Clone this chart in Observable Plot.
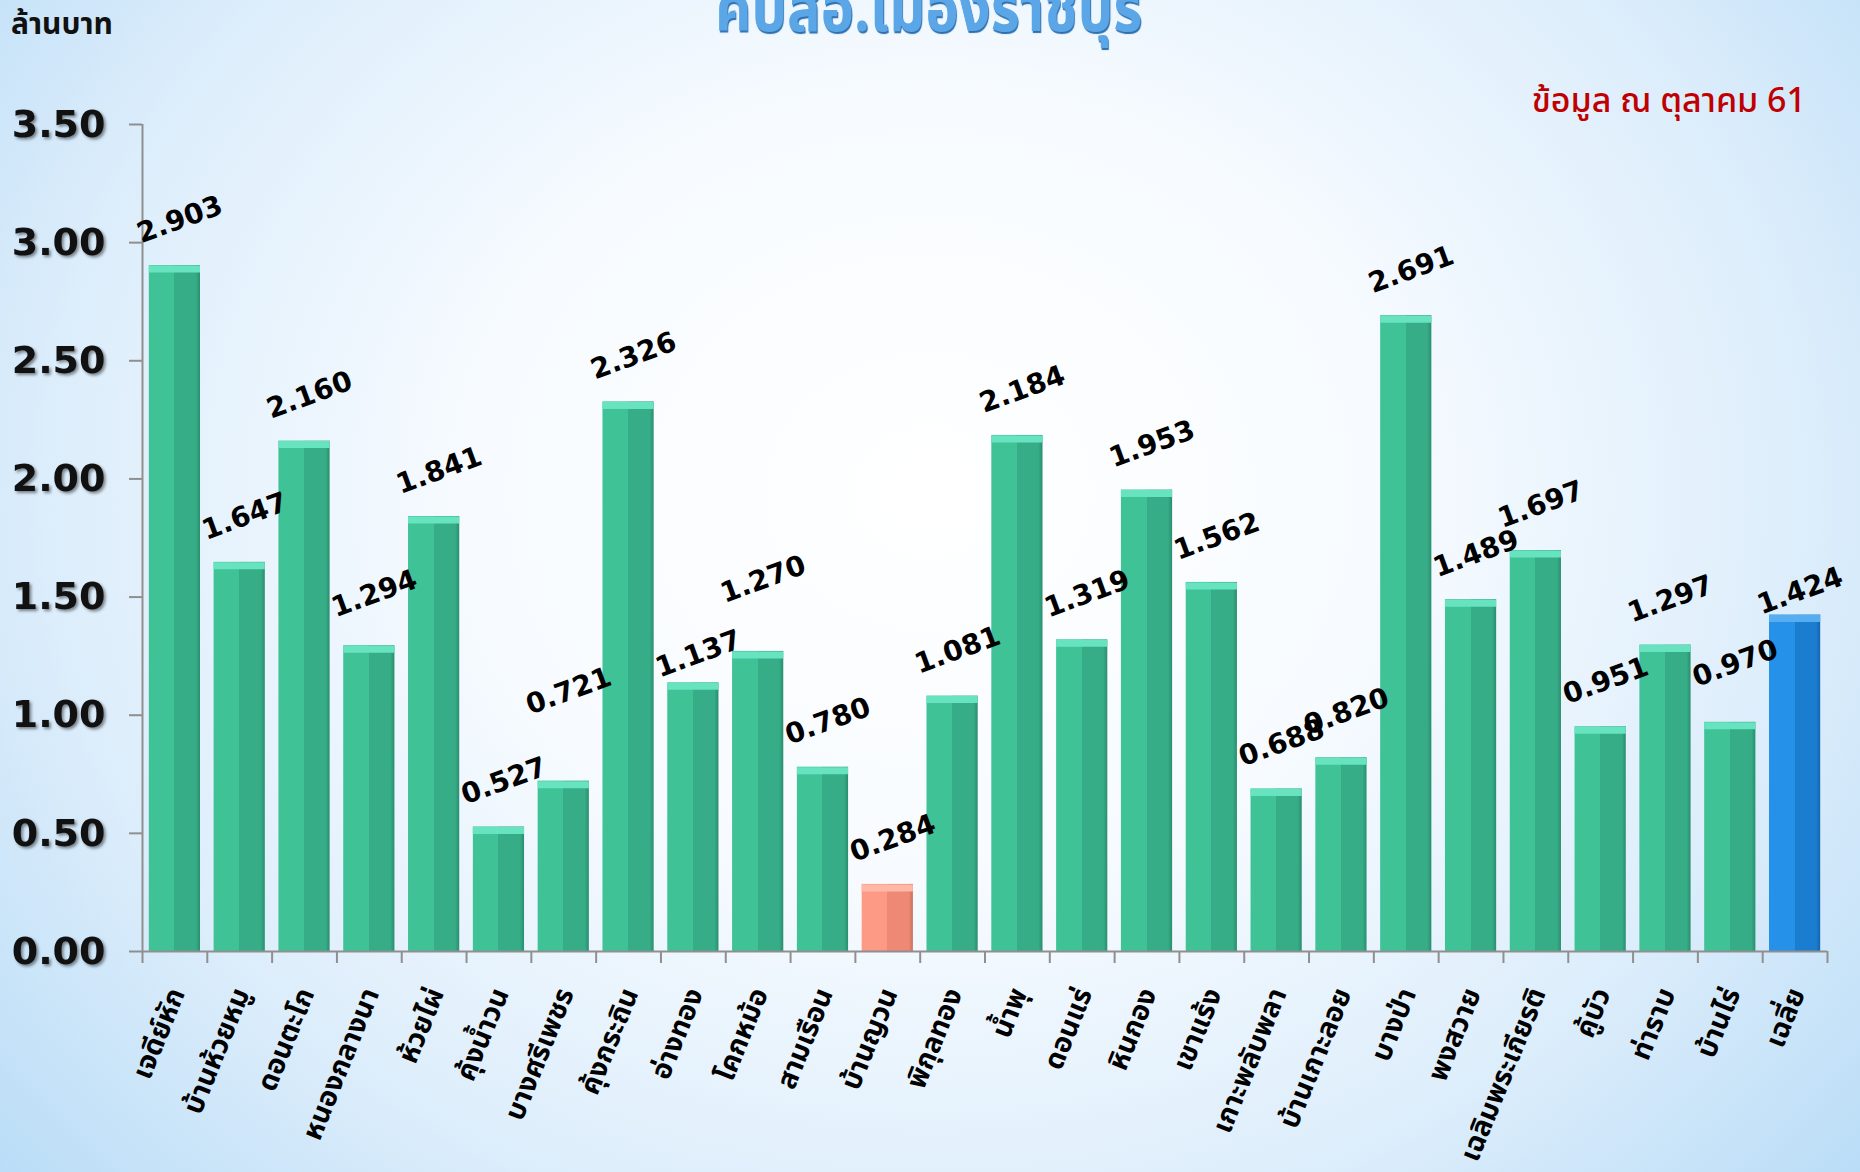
<!DOCTYPE html>
<html>
<head>
<meta charset="utf-8">
<script src="https://cdn.jsdelivr.net/npm/d3@7"></script>
<script src="https://cdn.jsdelivr.net/npm/@observablehq/plot@0.6"></script>
<style>
  html, body { margin: 0; padding: 0; }
  #page {
    position: relative; width: 1860px; height: 1172px; overflow: hidden;
    background: radial-gradient(ellipse 70% 95% at 50% 42%, #ffffff 0%, #f7fbff 35%, #dcedfb 68%, #b2d9f6 100%);
    font-family: Tahoma, "Noto Sans Thai", "Noto Sans", "DejaVu Sans", sans-serif;
  }
  #title {
    position: absolute; left: 0; width: 1860px; text-align: center; top: -22px;
    font-size: 66px; font-weight: 700; color: #5aa6e6; line-height: 1;
    text-shadow: 1px 2px 1px #2d6fae; transform: scaleX(0.85); transform-origin: 922px 0;
  }
  #ylabel { position: absolute; left: 11px; top: 2px; font-size: 30px; font-weight: 700; color: #111; }
  #note { position: absolute; right: 54px; top: 76px; font-size: 34px; font-weight: 500; color: #c00000; }
  svg { position: absolute; left: 0; top: 0; background: transparent; overflow: visible; }
</style>
</head>
<body>
<div id="page">
  <div id="title">คปสอ.เมืองราชบุรี</div>
  <div id="ylabel">ล้านบาท</div>
  <div id="note">ข้อมูล ณ ตุลาคม 61</div>
</div>
<script>
const categories = ["เจดีย์หัก","บ้านห้วยหมู","ดอนตะโก","หนองกลางนา","ห้วยไผ่","คุ้งน้ำวน","บางศรีเพชร","คุ้งกระถิน","อ่างทอง","โคกหม้อ","สามเรือน","บ้านญวน","พิกุลทอง","น้ำพุ","ดอนแร่","หินกอง","เขาแร้ง","เกาะพลับพลา","บ้านเกาะลอย","บางป่า","พงสวาย","เฉลิมพระเกียรติ","คู้บัว","ท่าราบ","บ้านไร่","เฉลี่ย"];
const values = [2.903,1.647,2.160,1.294,1.841,0.527,0.721,2.326,1.137,1.270,0.780,0.284,1.081,2.184,1.319,1.953,1.562,0.688,0.820,2.691,1.489,1.697,0.951,1.297,0.970,1.424];
const kinds = ["g","g","g","g","g","g","g","g","g","g","g","p","g","g","g","g","g","g","g","g","g","g","g","g","g","b"];
const yTicks = [0, 0.5, 1, 1.5, 2, 2.5, 3, 3.5];

const data = categories.map((name, i) => ({name, value: values[i], kind: kinds[i]}));

const W = 1860, H = 1172;
const mL = 142, mR = 33, mT = 124, mB = 221;
const step = (W - mL - mR) / categories.length;
const axisGray = "#8f8f8f";

const fills = {g: "url(#gradG)", p: "url(#gradP)", b: "url(#gradB)"};
const caps = {g: "#68e3bf", p: "#ffb7a6", b: "#56aef0"};

const barMarks = ["g", "p", "b"].flatMap(k => {
  const sub = data.filter(d => d.kind === k);
  return [
    Plot.barY(sub, {x: "name", y: "value", fill: fills[k]}),
    Plot.tickY(sub, {x: "name", y: "value", stroke: caps[k], strokeWidth: 7, dy: 3.5})
  ];
});

// value labels: most sit at a common offset; a few were nudged by hand in the original
const labelOffsets = {"บางศรีเพชร": -90, "โคกหม้อ": -72, "อ่างทอง": -29, "บ้านไร่": -59, "เฉลี่ย": -24, "หนองกลางนา": -52};
const labelStyle = {x: "name", y: "value", text: d => d.value.toFixed(3), rotate: -20, dx: 5,
  fontSize: 28, fontWeight: 700, fill: "#000", fontFamily: '"DejaVu Sans", Verdana, sans-serif'};
const labelMarks = [
  Plot.text(data.filter(d => !(d.name in labelOffsets)), {...labelStyle, dy: -46}),
  ...Object.entries(labelOffsets).map(([n, dy]) => Plot.text(data.filter(d => d.name === n), {...labelStyle, dy}))
];

const chart = Plot.plot({
  width: W, height: H,
  marginLeft: mL, marginRight: mR, marginTop: mT, marginBottom: mB,
  style: {background: "transparent", overflow: "visible", fontFamily: 'Tahoma, "Noto Sans Thai", "Noto Sans", "DejaVu Sans", sans-serif'},
  x: {type: "band", domain: categories, paddingInner: 0.21, paddingOuter: 0.105, round: false, label: null, axis: null},
  y: {domain: [0, 3.5], label: null, axis: null},
  marks: [
    ...barMarks,
    Plot.ruleY([0], {stroke: axisGray, strokeWidth: 2}),
    Plot.ruleX([categories[0]], {y1: 0, y2: 3.5, dx: -step / 2, stroke: axisGray, strokeWidth: 2}),
    Plot.axisY({ticks: yTicks, tickFormat: d3.format(".2f"), tickSize: 13, tickPadding: 24,
      fontSize: 38, fontWeight: 700, stroke: axisGray, strokeWidth: 2, fill: "#111",
      fontFamily: '"DejaVu Sans", Verdana, sans-serif'}),
    Plot.axisX(categories, {tickSize: 12, tickFormat: () => "", dx: -step / 2, stroke: axisGray, strokeWidth: 2}),
    Plot.axisX([categories[categories.length - 1]], {tickSize: 12, tickFormat: () => "", dx: step / 2, stroke: axisGray, strokeWidth: 2}),
    Plot.axisX({tickSize: 0, tickRotate: -68, tickPadding: 38, dx: 2, fontSize: 28, fontWeight: 700, fill: "#000"}),
    ...labelMarks
  ]
});

const svg = d3.select(chart);
const defs = svg.insert("defs", ":first-child");
function grad(id, left, right, edge) {
  const g = defs.append("linearGradient").attr("id", id).attr("x1", 0).attr("x2", 1).attr("y1", 0).attr("y2", 0);
  g.append("stop").attr("offset", "0%").attr("stop-color", left);
  g.append("stop").attr("offset", "50%").attr("stop-color", left);
  g.append("stop").attr("offset", "50%").attr("stop-color", right);
  g.append("stop").attr("offset", "92%").attr("stop-color", right);
  g.append("stop").attr("offset", "100%").attr("stop-color", edge);
}
grad("gradG", "#3fc296", "#36ac87", "#2a8e6e");
grad("gradP", "#fd9a85", "#ee8976", "#c96e5d");
grad("gradB", "#2691e8", "#1a7dd0", "#1565ab");
svg.selectAll('g[aria-label="y-axis tick label"]').style("filter", "drop-shadow(2px 2px 1.5px rgba(0,0,0,0.45))");
document.getElementById("page").appendChild(chart);
</script>
</body>
</html>
